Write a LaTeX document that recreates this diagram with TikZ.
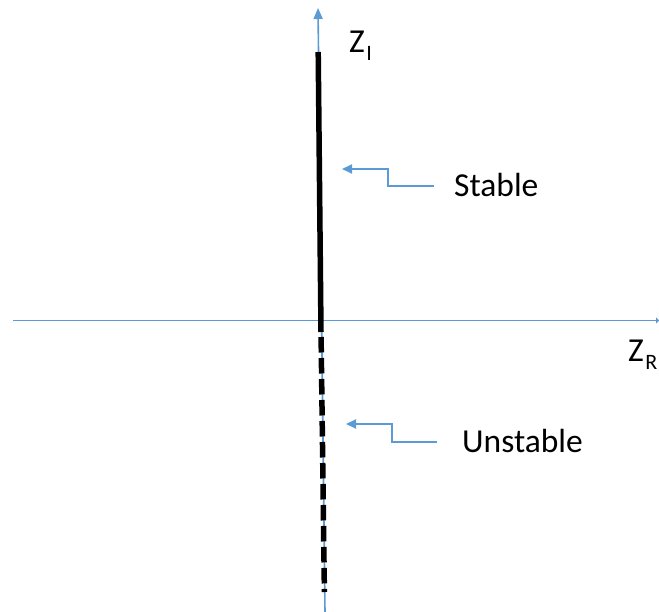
\documentclass[tikz,border=0pt]{standalone}
\usepackage{fontspec}
\setmainfont{Carlito}
\usetikzlibrary{arrows.meta}
\definecolor{axisblue}{HTML}{5B9BD5}
\tikzset{
  axisline/.style={draw=axisblue, line width=1.6pt},
  elbow/.style={draw=axisblue, line width=2pt, -{Triangle[length=10pt,width=9pt]}},
  curve/.style={draw=black, line width=5.5pt},
  label/.style={inner sep=0pt, anchor=base west, font=\fontsize{33.5}{40}\selectfont},
}
\newcommand{\mysub}[1]{\hspace{1.5pt}\raisebox{-8pt}{\fontsize{22}{26}\selectfont #1}}
\begin{document}
\begin{tikzpicture}[x=1pt,y=-1pt]
\useasboundingbox (0,0) rectangle (659,612);
% axes
\coordinate (yb) at (325,612);
\coordinate (yt) at (318,8);
\coordinate (xl) at (13,320.5);
\coordinate (xr) at (659,320.5);
\draw[axisline, -{Triangle[length=11pt,width=9pt]}] (yb) -- (yt);
\draw[axisline, -{Triangle[length=3pt,width=6pt]}] (xl) -- (xr);
% solution curve
\coordinate (ct) at (318.2,52);
\coordinate (cm) at (321,332);
\coordinate (cd) at (321.1,337);
\coordinate (cb) at (324.4,592);
\draw[curve] (ct) -- (cm);
\draw[curve, dash pattern=on 15.5pt off 5.5pt] (cd) -- (cb);
% labels
\node[label] (zi) at (349,53) {Z\mysub{I}};
\node[label] (zr) at (628,362) {Z\mysub{R}};
\node[label] (st) at (454,197) {Stable};
\node[label] (un) at (462,452) {Unstable};
% pointer arrows
\coordinate (s0) at (434,186.5);
\coordinate (s1) at (388,186.5);
\coordinate (s2) at (388,169);
\coordinate (s3) at (342,169);
\draw[elbow] (s0) -- (s1) -- (s2) -- (s3);
\coordinate (u0) at (437,442);
\coordinate (u1) at (392,442);
\coordinate (u2) at (392,424);
\coordinate (u3) at (346,424);
\draw[elbow] (u0) -- (u1) -- (u2) -- (u3);
\end{tikzpicture}
\end{document}
